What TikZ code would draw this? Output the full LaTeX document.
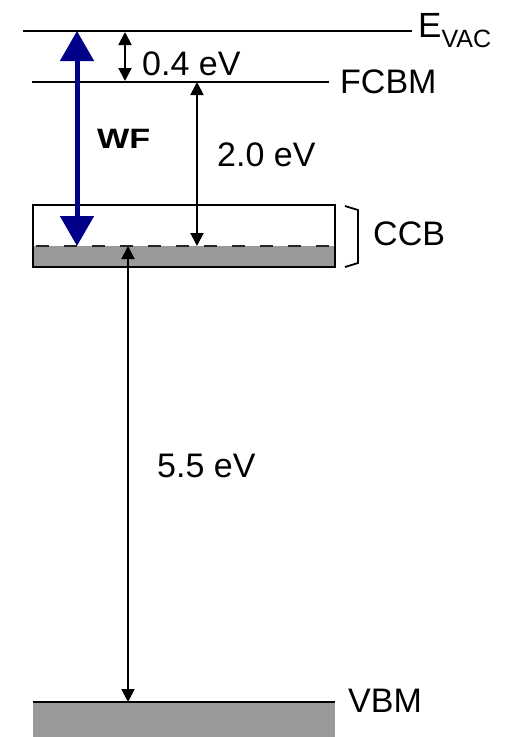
\documentclass[tikz,border=0pt]{standalone}
\usepackage{fontspec}
\setmainfont{Liberation Sans}
\usetikzlibrary{arrows.meta}
\definecolor{bandgray}{RGB}{153,153,153}
\definecolor{wfblue}{RGB}{0,0,136}
\begin{document}
\begin{tikzpicture}[x=1pt,y=-1pt,
  level/.style={line width=2.2pt},
  lbl/.style={anchor=base west,inner sep=0pt,font=\fontsize{34}{40}\selectfont},
  dim/.style={line width=1.9pt,{Triangle[width=13pt,length=13pt]}-{Triangle[width=13pt,length=13pt]}},
  wfarrow/.style={wfblue,line width=5pt,{Triangle[width=33pt,length=30pt]}-{Triangle[width=33pt,length=30pt]}}]
\useasboundingbox (0,0) rectangle (510,737);
% levels
\coordinate (evacL) at (23,31);
\coordinate (evacR) at (412,31);
\coordinate (fcbmL) at (32,82);
\coordinate (fcbmR) at (329,82);
\draw[level] (evacL) -- (evacR);
\draw[level] (fcbmL) -- (fcbmR);
% CCB box
\fill[bandgray] (33,246) rectangle (335,267);
\draw[line width=2pt] (33,205) rectangle (335,267);
\coordinate (dashL) at (34,246);
\coordinate (dashR) at (334,246);
\draw[line width=1.8pt,dash pattern=on 13pt off 15pt,dash phase=-2pt,black!85] (dashL) -- (dashR);
% bracket
\draw[line width=1.8pt] (345,206) -- (358,210) -- (358,263) -- (345,267);
% VBM
\fill[bandgray] (33,702) rectangle (335,740);
\coordinate (vbmL) at (33,702);
\coordinate (vbmR) at (335,702);
\draw[line width=2.6pt] (vbmL) -- (vbmR);
% arrows
\coordinate (a04t) at (125,32);
\coordinate (a04b) at (125,81);
\draw[dim] (a04t) -- (a04b);
\coordinate (a20t) at (197,82);
\coordinate (a20b) at (197,246);
\draw[dim] (a20t) -- (a20b);
\coordinate (a55t) at (128,246);
\coordinate (a55b) at (128,702);
\draw[dim] (a55t) -- (a55b);
\coordinate (wft) at (77,31);
\coordinate (wfb) at (77,246);
\draw[wfarrow] (wft) -- (wfb);
% labels
\node[lbl] (levac) at (418,37) {\fontsize{35}{40}\selectfont E\raisebox{-10pt}{\fontsize{25}{30}\selectfont VAC}};
\node[lbl] (lfcbm) at (340,93) {FCBM};
\node[lbl] (l04) at (142,75) {0.4 eV};
\node[lbl] (l20) at (217,166) {2.0 eV};
\node[lbl] (lwf) at (97,148) {\scalebox{1.22}[1]{\fontsize{28}{32}\selectfont\bfseries WF}};
\node[lbl] (lccb) at (373,245) {CCB};
\node[lbl] (l55) at (157,477) {5.5 eV};
\node[lbl] (lvbm) at (348,712) {VBM};
\end{tikzpicture}
\end{document}
